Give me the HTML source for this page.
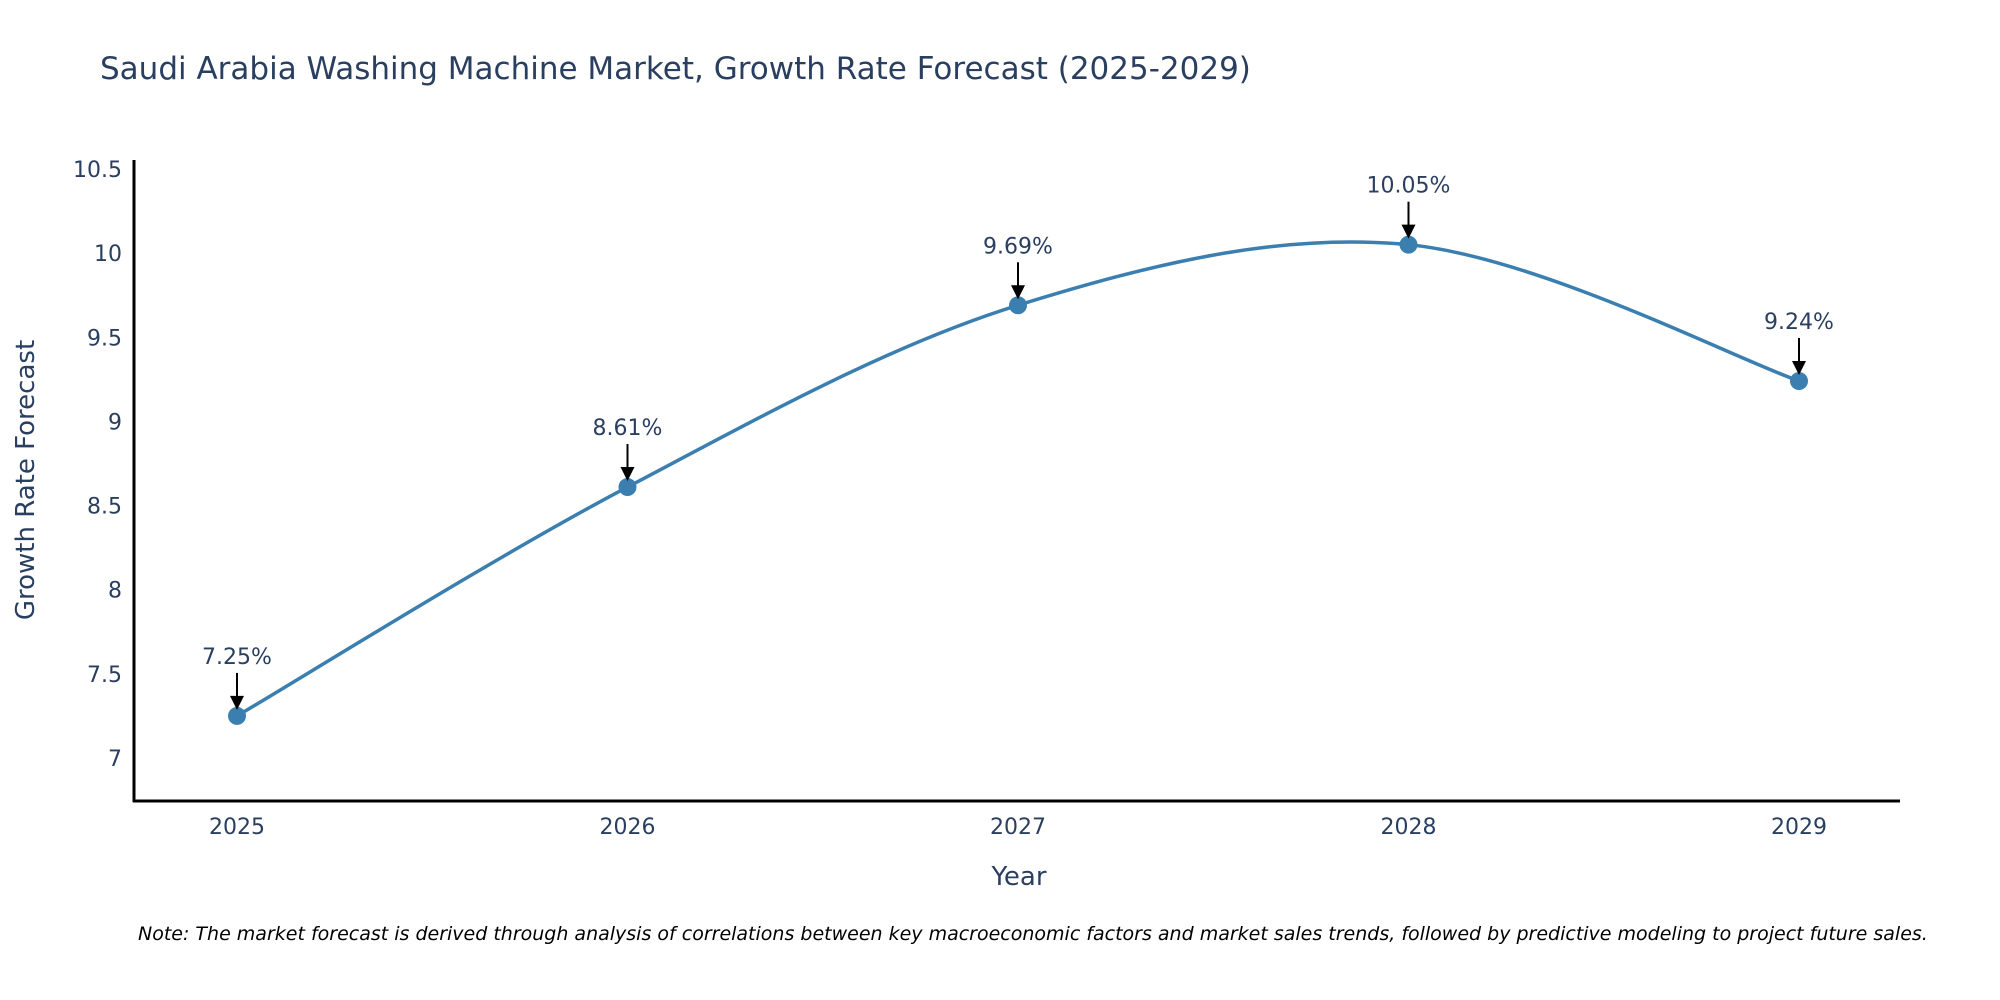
<!DOCTYPE html>
<html><head><meta charset="utf-8"><style>
body{margin:0;background:#fff}
svg{display:block;font-family:"DejaVu Sans","Liberation Sans",sans-serif}
</style></head><body>
<svg id="chart" width="2000" height="1000">
<text x="100" y="79" font-size="31" fill="#2a3f5f">Saudi Arabia Washing Machine Market, Growth Rate Forecast (2025-2029)</text>
<g id="yticks"></g>
<g id="xticks"></g>
<path id="line" fill="none" stroke="#3a7fb0" stroke-width="3.5"/>
<g id="points"></g>
<line x1="134" y1="160" x2="134" y2="802" stroke="#000" stroke-width="3"/>
<line x1="133" y1="801" x2="1900" y2="801" stroke="#000" stroke-width="3"/>
<text transform="translate(34,480) rotate(-90)" text-anchor="middle" font-size="26" fill="#2a3f5f">Growth Rate Forecast</text>
<text x="1019" y="885" text-anchor="middle" font-size="26" fill="#2a3f5f">Year</text>
<text x="138" y="940" font-size="19" font-style="italic" fill="#000">Note: The market forecast is derived through analysis of correlations between key macroeconomic factors and market sales trends, followed by predictive modeling to project future sales.</text>
</svg>
<script>
const years = [2025, 2026, 2027, 2028, 2029];
const values = [7.25, 8.61, 9.69, 10.05, 9.24];
const labels = ["7.25%", "8.61%", "9.69%", "10.05%", "9.24%"];
const yTicks = [7, 7.5, 8, 8.5, 9, 9.5, 10, 10.5];
const yTickLabels = ["7", "7.5", "8", "8.5", "9", "9.5", "10", "10.5"];
const NS = "http://www.w3.org/2000/svg";
function xs(yr){return 237 + (yr - 2025) * 390.5;}
function ys(v){return 758 - (v - 7) * 168.3;}
function mk(tag, attrs, parent, txt){const e=document.createElementNS(NS,tag);for(const k in attrs)e.setAttribute(k,attrs[k]);if(txt!==undefined)e.textContent=txt;parent.appendChild(e);return e;}
const yg=document.getElementById('yticks');
yTicks.forEach((t,i)=>{
  const e=mk('text',{x:122,y:ys(t)+8,'text-anchor':'end','font-size':22,fill:'#2a3f5f'},yg,yTickLabels[i]);
  
  
});
const xg=document.getElementById('xticks');
years.forEach(y=>{
  const e=mk('text',{x:xs(y),y:834,'text-anchor':'middle','font-size':22,fill:'#2a3f5f'},xg,String(y));
  
  
});
const P=years.map((y,i)=>[xs(y),ys(values[i])]);
let d='M'+P[0][0]+','+P[0][1];
const k=1/6;
for(let i=0;i<P.length-1;i++){
  const p0=P[i-1]||P[i],p1=P[i],p2=P[i+1],p3=P[i+2]||P[i+1];
  const c1=[p1[0]+(p2[0]-p0[0])*k,p1[1]+(p2[1]-p0[1])*k];
  const c2=[p2[0]-(p3[0]-p1[0])*k,p2[1]-(p3[1]-p1[1])*k];
  d+=' C'+c1[0]+','+c1[1]+' '+c2[0]+','+c2[1]+' '+p2[0]+','+p2[1];
}
document.getElementById('line').setAttribute('d',d);
const pg=document.getElementById('points');
P.forEach((p,i)=>{
  const c=mk('circle',{cx:p[0],cy:p[1],r:9,fill:'#3a7fb0'},pg);
  
  
  const l=mk('line',{x1:p[0],y1:p[1]-43,x2:p[0],y2:p[1]-18,stroke:'#000','stroke-width':2},pg);
  
  
  const a=mk('polygon',{points:(p[0]-7)+','+(p[1]-20)+' '+(p[0]+7)+','+(p[1]-20)+' '+p[0]+','+(p[1]-6),fill:'#000'},pg);
  
  
  const tx=mk('text',{x:p[0],y:p[1]-52,'text-anchor':'middle','font-size':22,fill:'#2a3f5f'},pg,labels[i]);
  
  
});
</script>
</body></html>
